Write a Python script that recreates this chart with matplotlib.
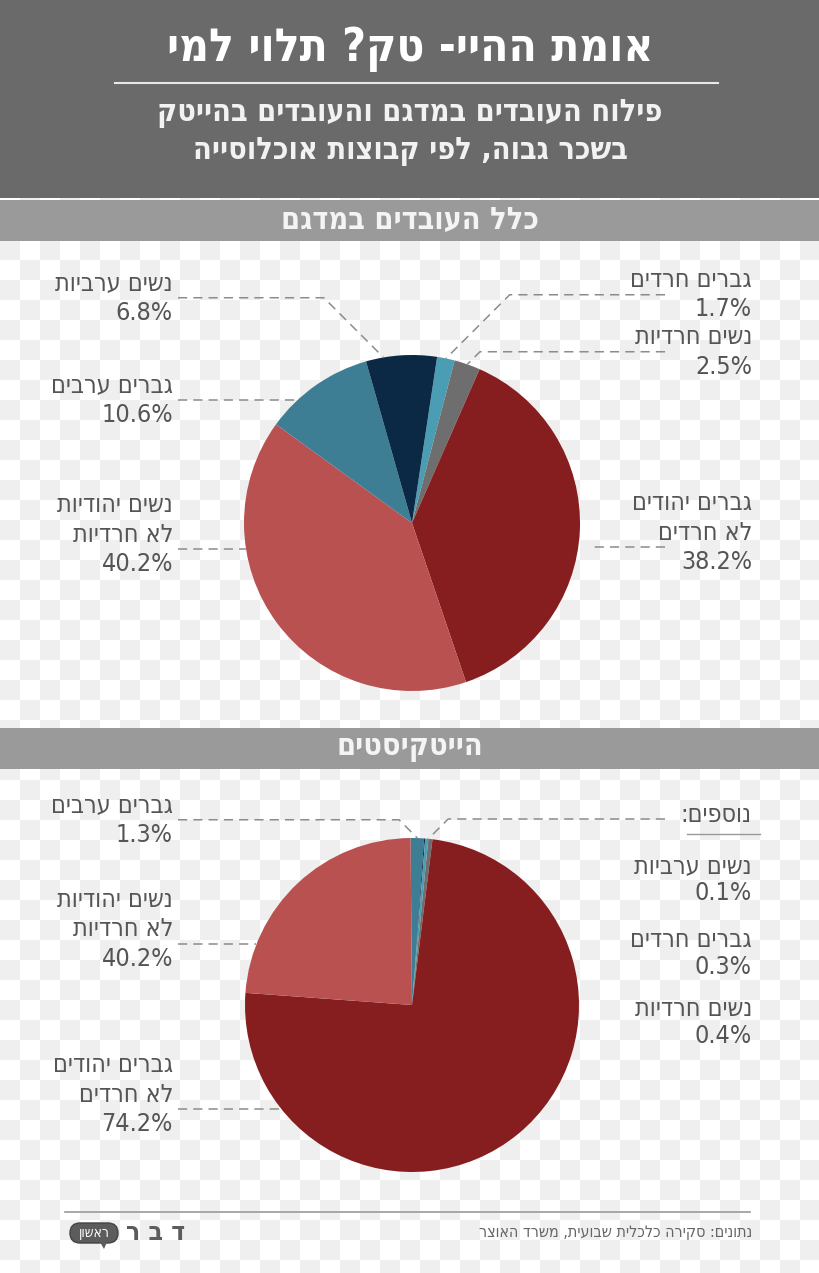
import numpy as np
import matplotlib
matplotlib.use("Agg")
from matplotlib import pyplot as plt
from matplotlib.colors import ListedColormap
from matplotlib.patches import Rectangle, FancyBboxPatch, Polygon

plt.rcParams['font.family'] = ['DejaVu Sans']

W, H = 820, 1273

# --- data -------------------------------------------------------------
title = "אומת ההיי- טק? תלוי למי"
subtitle = ["פילוח העובדים במדגם והעובדים בהייטק", "בשכר גבוה, לפי קבוצות אוכלוסייה"]
section_titles = ["כלל העובדים במדגם", "הייטקיסטים"]
source = "נתונים: סקירה כלכלית שבועית, משרד האוצר"

# all workers in sample, clockwise from the top
groups_all = ["גברים חרדים", "נשים חרדיות", "גברים יהודים\nלא חרדים",
              "נשים יהודיות\nלא חרדיות", "גברים ערבים", "נשים ערביות"]
share_all = [1.7, 2.5, 38.2, 40.2, 10.6, 6.8]
pct_all = ["1.7%", "2.5%", "38.2%", "40.2%", "10.6%", "6.8%"]

# hi-tech workers, clockwise from the top
groups_tech = ["גברים ערבים", "נשים ערביות", "גברים חרדים", "נשים חרדיות",
               "גברים יהודים\nלא חרדים", "נשים יהודיות\nלא חרדיות"]
share_tech = [1.3, 0.1, 0.3, 0.4, 74.2, 23.7]
pct_tech = ["1.3%", "0.1%", "0.3%", "0.4%", "74.2%", "40.2%"]  # as printed in the source
extra_label = "נוספים:"

colors = {
    "גברים חרדים": "#4a9db3",
    "נשים חרדיות": "#6e6e6e",
    "גברים יהודים\nלא חרדים": "#861e20",
    "נשים יהודיות\nלא חרדיות": "#b95150",
    "גברים ערבים": "#3e7e95",
    "נשים ערביות": "#0b2844",
}

TXT = "#555555"
LEAD = "#8c8c8c"
STRETCH = "condensed"
LBL = 18


def heb(s):
    # matplotlib has no bidi support, flip to visual order
    return s[::-1]


fig = plt.figure(figsize=(W / 100, H / 100), dpi=100)

# background: transparency checkerboard + bands
bg = fig.add_axes([0, 0, 1, 1], zorder=0)
bg.axis("off")
rows, cols = int(np.ceil(H / 20)), int(np.ceil(W / 20))
board = np.indices((rows, cols)).sum(axis=0) % 2
bg.imshow(board, cmap=ListedColormap(["#efefef", "#ffffff"]), interpolation="nearest",
          extent=(0, cols * 20, rows * 20, 0), aspect="auto")
bg.set_xlim(0, W)
bg.set_ylim(H, 0)
bg.add_patch(Rectangle((0, 0), W, 198, color="#6a6a6a", lw=0))
bg.add_patch(Rectangle((0, 200), W, 41, color="#9a9a9a", lw=0))
bg.add_patch(Rectangle((0, 728), W, 41, color="#9a9a9a", lw=0))

top = fig.add_axes([0, 0, 1, 1], zorder=5)
top.set_xlim(0, W)
top.set_ylim(H, 0)
top.axis("off")
top.patch.set_visible(False)

# header
top.text(410, 49, heb(title), color="white", fontsize=33, fontweight="bold",
         ha="center", va="center", fontstretch=STRETCH)
top.plot([115, 718], [83, 83], color="#e8e8e8", lw=1.5)
for i, line in enumerate(subtitle):
    top.text(410, 113 + i * 39, heb(line), color="#f2f2f2", fontsize=22, fontweight="bold",
             ha="center", va="center", fontstretch=STRETCH)
top.text(410, 220, heb(section_titles[0]), color="#f4f4f4", fontsize=22, fontweight="bold",
         ha="center", va="center", fontstretch=STRETCH)
top.text(410, 748, heb(section_titles[1]), color="#f4f4f4", fontsize=22, fontweight="bold",
         ha="center", va="center", fontstretch=STRETCH)


def draw_pie(cx, cy, r, groups, shares, start):
    ax = fig.add_axes([(cx - r) / W, (H - cy - r) / H, 2 * r / W, 2 * r / H], zorder=2)
    wedges, _ = ax.pie(shares, colors=[colors[g] for g in groups], startangle=start,
                       counterclock=False, radius=1, wedgeprops=dict(linewidth=0))
    ax.set_xlim(-1, 1)
    ax.set_ylim(-1, 1)
    return ax, wedges


def to_px(ax, x, y):
    dx, dy = ax.transData.transform((x, y))
    return dx, H - dy


def edge_point(ax, t1, t2, frac=0.5):
    a = np.deg2rad(t1 + (t2 - t1) * frac)
    return to_px(ax, np.cos(a), np.sin(a))


def label(lines, side, y0, sp=29.5):
    x = 173 if side == "left" else 752
    for i, ln in enumerate(lines):
        top.text(x, y0 + i * sp, heb(ln) if not ln[0].isdigit() else ln, color=TXT,
                 fontsize=LBL, ha="right", va="center", fontstretch=STRETCH)
    return y0 + (len(lines) - 1) * sp - sp / 2


def leader(ax, side, ly, t1, t2, mode, gap=0, frac=0.5):
    x0 = 178 if side == "left" else 665
    if mode == "flat":
        cx, cy = to_px(ax, 0, 0)
        r = to_px(ax, 1, 0)[0] - cx
        ex = np.sqrt(max(r ** 2 - (ly - cy) ** 2, 0))
        x1 = cx - ex - gap if side == "left" else cx + ex + gap
        top.plot([x0, x1], [ly, ly], color=LEAD, lw=1.1, ls=(0, (6, 4)))
    else:
        ex, ey = edge_point(ax, t1, t2, frac)
        kx = ex - (ey - ly) if side == "left" else ex + (ey - ly)
        top.plot([x0, kx, ex], [ly, ly, ey], color=LEAD, lw=1.1, ls=(0, (6, 4)))


# --- pie 1: all workers ---
ax1, w1 = draw_pie(412, 523, 168, groups_all, share_all, 81.4)
spec1 = [(5, "left", 283, "knee", 0, 0.75), (4, "left", 385, "flat", 0, 0.5),
         (3, "left", 505, "flat", 0, 0.5), (0, "right", 280, "knee", 0, 0.5),
         (1, "right", 337, "knee", 0, 0.5), (2, "right", 503, "flat", 15, 0.5)]
for idx, side, y0, mode, gap, frac in spec1:
    ly = label(groups_all[idx].split("\n") + [pct_all[idx]], side, y0)
    leader(ax1, side, ly, w1[idx].theta1, w1[idx].theta2, mode, gap, frac)

# --- pie 2: hi-tech ---
ax2, w2 = draw_pie(412, 1005, 167, groups_tech, share_tech, 90.5)
spec2 = [(0, "left", 805, "knee"), (5, "left", 900, "flat"), (4, "left", 1065, "flat")]
for idx, side, y0, mode in spec2:
    ly = label(groups_tech[idx].split("\n") + [pct_tech[idx]], side, y0)
    leader(ax2, side, ly, w2[idx].theta1, w2[idx].theta2, mode)

# small groups bundled on the right
top.text(752, 815, heb(extra_label), color=TXT, fontsize=LBL, ha="right", va="center",
         fontstretch=STRETCH)
top.plot([687, 760], [834, 834], color="#999999", lw=1)
small = [1, 2, 3]
leader(ax2, "right", 819, min(w2[i].theta1 for i in small), max(w2[i].theta2 for i in small), "knee")
for idx, y0 in zip(small, [866, 940, 1009]):
    label(groups_tech[idx].split("\n") + [pct_tech[idx]], "right", y0, sp=27)

# footer
top.plot([65, 750], [1212, 1212], color="#9a9a9a", lw=1.2)
top.text(752, 1232, heb(source), color="#666666", fontsize=11.5, ha="right", va="center",
         fontstretch=STRETCH)
top.add_patch(FancyBboxPatch((70, 1223), 48, 20, boxstyle="round,pad=0,rounding_size=10",
                             fc="#5c5c5c", ec="#444444", lw=1))
top.add_patch(Polygon([[100, 1242], [107, 1242], [104, 1249]], closed=True, fc="#5c5c5c", lw=0))
top.text(94, 1233, heb("ראשון"), color="white", fontsize=10, ha="center", va="center",
         fontstretch=STRETCH)
top.text(156, 1233, "ר ב ד", color="#5c5c5c", fontsize=19, fontweight="bold", ha="center",
         va="center", fontstretch=STRETCH)

fig.savefig("out.png", dpi=100)
